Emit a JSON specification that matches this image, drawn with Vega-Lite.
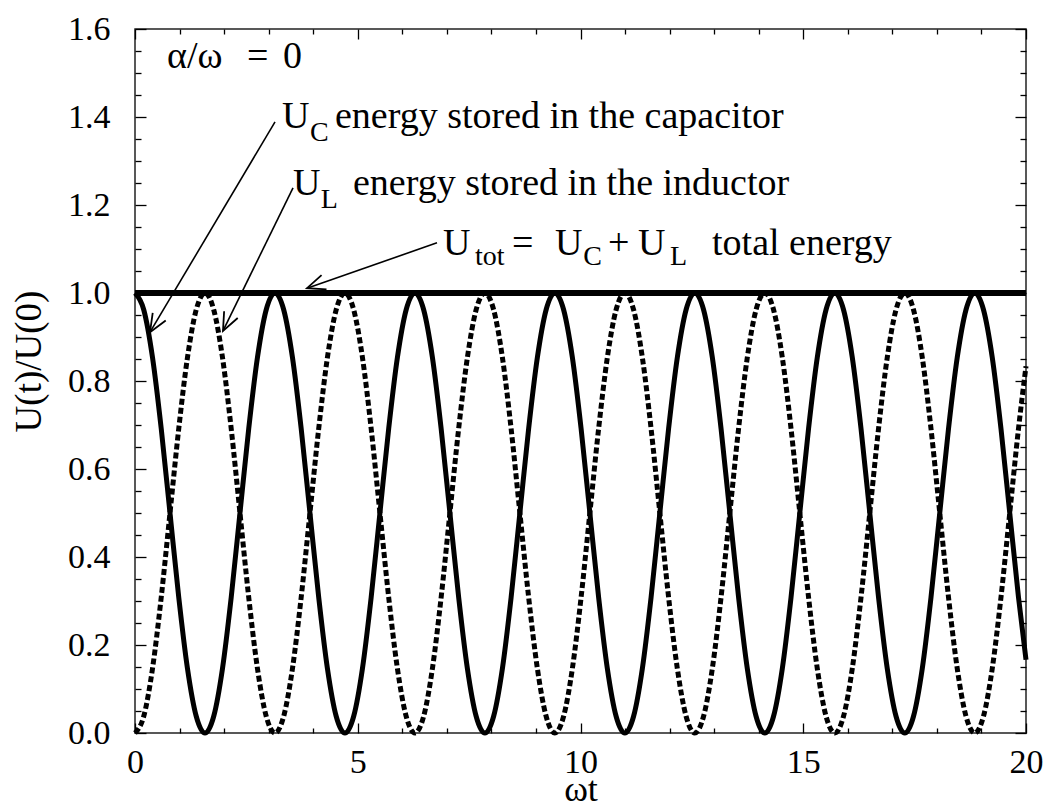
{
  "$schema": "https://vega.github.io/schema/vega-lite/v6.json",
  "width": 891,
  "height": 704,
  "autosize": {"type": "none"},
  "padding": {"left": 135, "top": 29, "right": 21, "bottom": 77},
  "background": "white",
  "config": {
    "font": "Liberation Serif, Times New Roman, serif",
    "view": {"stroke": "#222222", "strokeWidth": 1.5},
    "axis": {"domain": false, "grid": false, "tickColor": "black", "tickWidth": 1.3, "labelColor": "black", "titleColor": "black", "labelFont": "Liberation Serif, Times New Roman, serif", "titleFont": "Liberation Serif, Times New Roman, serif", "titleFontWeight": "normal"}
  },
  "resolve": {"axis": {"x": "independent", "y": "independent"}},
  "datasets": {
    "curve": [
      {"t": 0, "uc": 1, "ul": 0, "tot": 1},
      {"t": 0.19635, "uc": 0.96194, "ul": 0.03806, "tot": 1},
      {"t": 0.3927, "uc": 0.85355, "ul": 0.14645, "tot": 1},
      {"t": 0.58905, "uc": 0.69134, "ul": 0.30866, "tot": 1},
      {"t": 0.7854, "uc": 0.5, "ul": 0.5, "tot": 1},
      {"t": 0.98175, "uc": 0.30866, "ul": 0.69134, "tot": 1},
      {"t": 1.1781, "uc": 0.14645, "ul": 0.85355, "tot": 1},
      {"t": 1.37445, "uc": 0.03806, "ul": 0.96194, "tot": 1},
      {"t": 1.5708, "uc": 0, "ul": 1, "tot": 1},
      {"t": 1.76715, "uc": 0.03806, "ul": 0.96194, "tot": 1},
      {"t": 1.9635, "uc": 0.14645, "ul": 0.85355, "tot": 1},
      {"t": 2.15984, "uc": 0.30866, "ul": 0.69134, "tot": 1},
      {"t": 2.35619, "uc": 0.5, "ul": 0.5, "tot": 1},
      {"t": 2.55254, "uc": 0.69134, "ul": 0.30866, "tot": 1},
      {"t": 2.74889, "uc": 0.85355, "ul": 0.14645, "tot": 1},
      {"t": 2.94524, "uc": 0.96194, "ul": 0.03806, "tot": 1},
      {"t": 3.14159, "uc": 1, "ul": 0, "tot": 1},
      {"t": 3.33794, "uc": 0.96194, "ul": 0.03806, "tot": 1},
      {"t": 3.53429, "uc": 0.85355, "ul": 0.14645, "tot": 1},
      {"t": 3.73064, "uc": 0.69134, "ul": 0.30866, "tot": 1},
      {"t": 3.92699, "uc": 0.5, "ul": 0.5, "tot": 1},
      {"t": 4.12334, "uc": 0.30866, "ul": 0.69134, "tot": 1},
      {"t": 4.31969, "uc": 0.14645, "ul": 0.85355, "tot": 1},
      {"t": 4.51604, "uc": 0.03806, "ul": 0.96194, "tot": 1},
      {"t": 4.71239, "uc": 0, "ul": 1, "tot": 1},
      {"t": 4.90874, "uc": 0.03806, "ul": 0.96194, "tot": 1},
      {"t": 5.10509, "uc": 0.14645, "ul": 0.85355, "tot": 1},
      {"t": 5.30144, "uc": 0.30866, "ul": 0.69134, "tot": 1},
      {"t": 5.49779, "uc": 0.5, "ul": 0.5, "tot": 1},
      {"t": 5.69414, "uc": 0.69134, "ul": 0.30866, "tot": 1},
      {"t": 5.89049, "uc": 0.85355, "ul": 0.14645, "tot": 1},
      {"t": 6.08684, "uc": 0.96194, "ul": 0.03806, "tot": 1},
      {"t": 6.28319, "uc": 1, "ul": 0, "tot": 1},
      {"t": 6.47953, "uc": 0.96194, "ul": 0.03806, "tot": 1},
      {"t": 6.67588, "uc": 0.85355, "ul": 0.14645, "tot": 1},
      {"t": 6.87223, "uc": 0.69134, "ul": 0.30866, "tot": 1},
      {"t": 7.06858, "uc": 0.5, "ul": 0.5, "tot": 1},
      {"t": 7.26493, "uc": 0.30866, "ul": 0.69134, "tot": 1},
      {"t": 7.46128, "uc": 0.14645, "ul": 0.85355, "tot": 1},
      {"t": 7.65763, "uc": 0.03806, "ul": 0.96194, "tot": 1},
      {"t": 7.85398, "uc": 0, "ul": 1, "tot": 1},
      {"t": 8.05033, "uc": 0.03806, "ul": 0.96194, "tot": 1},
      {"t": 8.24668, "uc": 0.14645, "ul": 0.85355, "tot": 1},
      {"t": 8.44303, "uc": 0.30866, "ul": 0.69134, "tot": 1},
      {"t": 8.63938, "uc": 0.5, "ul": 0.5, "tot": 1},
      {"t": 8.83573, "uc": 0.69134, "ul": 0.30866, "tot": 1},
      {"t": 9.03208, "uc": 0.85355, "ul": 0.14645, "tot": 1},
      {"t": 9.22843, "uc": 0.96194, "ul": 0.03806, "tot": 1},
      {"t": 9.42478, "uc": 1, "ul": 0, "tot": 1},
      {"t": 9.62113, "uc": 0.96194, "ul": 0.03806, "tot": 1},
      {"t": 9.81748, "uc": 0.85355, "ul": 0.14645, "tot": 1},
      {"t": 10.01383, "uc": 0.69134, "ul": 0.30866, "tot": 1},
      {"t": 10.21018, "uc": 0.5, "ul": 0.5, "tot": 1},
      {"t": 10.40653, "uc": 0.30866, "ul": 0.69134, "tot": 1},
      {"t": 10.60288, "uc": 0.14645, "ul": 0.85355, "tot": 1},
      {"t": 10.79922, "uc": 0.03806, "ul": 0.96194, "tot": 1},
      {"t": 10.99557, "uc": 0, "ul": 1, "tot": 1},
      {"t": 11.19192, "uc": 0.03806, "ul": 0.96194, "tot": 1},
      {"t": 11.38827, "uc": 0.14645, "ul": 0.85355, "tot": 1},
      {"t": 11.58462, "uc": 0.30866, "ul": 0.69134, "tot": 1},
      {"t": 11.78097, "uc": 0.5, "ul": 0.5, "tot": 1},
      {"t": 11.97732, "uc": 0.69134, "ul": 0.30866, "tot": 1},
      {"t": 12.17367, "uc": 0.85355, "ul": 0.14645, "tot": 1},
      {"t": 12.37002, "uc": 0.96194, "ul": 0.03806, "tot": 1},
      {"t": 12.56637, "uc": 1, "ul": 0, "tot": 1},
      {"t": 12.76272, "uc": 0.96194, "ul": 0.03806, "tot": 1},
      {"t": 12.95907, "uc": 0.85355, "ul": 0.14645, "tot": 1},
      {"t": 13.15542, "uc": 0.69134, "ul": 0.30866, "tot": 1},
      {"t": 13.35177, "uc": 0.5, "ul": 0.5, "tot": 1},
      {"t": 13.54812, "uc": 0.30866, "ul": 0.69134, "tot": 1},
      {"t": 13.74447, "uc": 0.14645, "ul": 0.85355, "tot": 1},
      {"t": 13.94082, "uc": 0.03806, "ul": 0.96194, "tot": 1},
      {"t": 14.13717, "uc": 0, "ul": 1, "tot": 1},
      {"t": 14.33352, "uc": 0.03806, "ul": 0.96194, "tot": 1},
      {"t": 14.52987, "uc": 0.14645, "ul": 0.85355, "tot": 1},
      {"t": 14.72622, "uc": 0.30866, "ul": 0.69134, "tot": 1},
      {"t": 14.92257, "uc": 0.5, "ul": 0.5, "tot": 1},
      {"t": 15.11891, "uc": 0.69134, "ul": 0.30866, "tot": 1},
      {"t": 15.31526, "uc": 0.85355, "ul": 0.14645, "tot": 1},
      {"t": 15.51161, "uc": 0.96194, "ul": 0.03806, "tot": 1},
      {"t": 15.70796, "uc": 1, "ul": 0, "tot": 1},
      {"t": 15.90431, "uc": 0.96194, "ul": 0.03806, "tot": 1},
      {"t": 16.10066, "uc": 0.85355, "ul": 0.14645, "tot": 1},
      {"t": 16.29701, "uc": 0.69134, "ul": 0.30866, "tot": 1},
      {"t": 16.49336, "uc": 0.5, "ul": 0.5, "tot": 1},
      {"t": 16.68971, "uc": 0.30866, "ul": 0.69134, "tot": 1},
      {"t": 16.88606, "uc": 0.14645, "ul": 0.85355, "tot": 1},
      {"t": 17.08241, "uc": 0.03806, "ul": 0.96194, "tot": 1},
      {"t": 17.27876, "uc": 0, "ul": 1, "tot": 1},
      {"t": 17.47511, "uc": 0.03806, "ul": 0.96194, "tot": 1},
      {"t": 17.67146, "uc": 0.14645, "ul": 0.85355, "tot": 1},
      {"t": 17.86781, "uc": 0.30866, "ul": 0.69134, "tot": 1},
      {"t": 18.06416, "uc": 0.5, "ul": 0.5, "tot": 1},
      {"t": 18.26051, "uc": 0.69134, "ul": 0.30866, "tot": 1},
      {"t": 18.45686, "uc": 0.85355, "ul": 0.14645, "tot": 1},
      {"t": 18.65321, "uc": 0.96194, "ul": 0.03806, "tot": 1},
      {"t": 18.84956, "uc": 1, "ul": 0, "tot": 1},
      {"t": 19.04591, "uc": 0.96194, "ul": 0.03806, "tot": 1},
      {"t": 19.24226, "uc": 0.85355, "ul": 0.14645, "tot": 1},
      {"t": 19.4386, "uc": 0.69134, "ul": 0.30866, "tot": 1},
      {"t": 19.63495, "uc": 0.5, "ul": 0.5, "tot": 1},
      {"t": 19.8313, "uc": 0.30866, "ul": 0.69134, "tot": 1},
      {"t": 20, "uc": 0.16653, "ul": 0.83347, "tot": 1}
    ],
    "big": [
      {"x": 3.3, "y": 1.375, "txt": "U"},
      {"x": 4.489, "y": 1.375, "txt": "energy stored in the capacitor"},
      {"x": 3.547, "y": 1.2227, "txt": "U"},
      {"x": 4.893, "y": 1.2227, "txt": "energy stored in the inductor"},
      {"x": 6.914, "y": 1.0864, "txt": "U"},
      {"x": 8.462, "y": 1.0864, "txt": "="},
      {"x": 9.428, "y": 1.0864, "txt": "U"},
      {"x": 10.617, "y": 1.0864, "txt": "+"},
      {"x": 11.291, "y": 1.0864, "txt": "U"},
      {"x": 12.952, "y": 1.0864, "txt": "total energy"},
      {"x": 0.718, "y": 1.511, "txt": "α/ω"},
      {"x": 2.514, "y": 1.511, "txt": "="},
      {"x": 3.322, "y": 1.511, "txt": "0"}
    ],
    "subs": [
      {"x": 3.93, "y": 1.345, "txt": "C"},
      {"x": 4.17, "y": 1.193, "txt": "L"},
      {"x": 7.632, "y": 1.0636, "txt": "tot"},
      {"x": 10.06, "y": 1.0636, "txt": "C"},
      {"x": 12.009, "y": 1.0636, "txt": "L"}
    ],
    "arrows": [
      {"x0": 3.143, "y0": 1.389, "x1": 0.337, "y1": 0.911},
      {"x0": 3.547, "y0": 1.239, "x1": 1.975, "y1": 0.914},
      {"x0": 6.779, "y0": 1.114, "x1": 3.861, "y1": 1.011}
    ]
  },
  "layer": [
    {
      "data": {"name": "curve"},
      "mark": {"type": "line", "interpolate": "monotone", "color": "black", "strokeWidth": 5},
      "encoding": {
        "x": {"field": "t", "type": "quantitative", "scale": {"domain": [0, 20], "nice": false, "zero": false},
          "axis": {"orient": "bottom", "values": [0, 5, 10, 15, 20], "tickSize": -10, "labelFontSize": 34, "labelPadding": 22, "labelFlush": false, "labelBaseline": "top", "title": "ωt", "titleFontSize": 36, "titleY": 67, "titleBaseline": "alphabetic"}},
        "y": {"field": "uc", "type": "quantitative", "scale": {"domain": [0, 1.6], "nice": false, "zero": false},
          "axis": {"orient": "left", "values": [0, 0.2, 0.4, 0.6, 0.8, 1.0, 1.2, 1.4, 1.6], "format": ".1f", "tickSize": -11, "labelFontSize": 34, "labelPadding": 36, "labelFlush": false, "labelAlign": "right", "labelBaseline": "middle", "title": "U(t)/U(0)", "titleFontSize": 37, "titleX": -106, "titleY": 332, "titleAngle": -90, "titleAlign": "center", "titleBaseline": "middle"}}
      }
    },
    {
      "data": {"name": "curve"},
      "mark": {"type": "line", "interpolate": "monotone", "color": "black", "strokeWidth": 5, "strokeDash": [6, 3]},
      "encoding": {
        "x": {"field": "t", "type": "quantitative", "scale": {"domain": [0, 20], "nice": false, "zero": false},
          "axis": {"orient": "bottom", "values": [1, 2, 3, 4, 6, 7, 8, 9, 11, 12, 13, 14, 16, 17, 18, 19], "tickSize": -5, "labels": false, "title": null}},
        "y": {"field": "ul", "type": "quantitative",
          "axis": {"orient": "left", "values": [0.05, 0.1, 0.15, 0.25, 0.3, 0.35, 0.45, 0.5, 0.55, 0.65, 0.7, 0.75, 0.85, 0.9, 0.95, 1.05, 1.1, 1.15, 1.25, 1.3, 1.35, 1.45, 1.5, 1.55], "tickSize": -6, "labels": false, "title": null}}
      }
    },
    {
      "data": {"name": "curve"},
      "mark": {"type": "line", "color": "black", "strokeWidth": 6},
      "encoding": {
        "x": {"field": "t", "type": "quantitative",
          "axis": {"orient": "top", "values": [0, 5, 10, 15, 20], "tickSize": -10, "labels": false, "title": null}},
        "y": {"field": "tot", "type": "quantitative",
          "axis": {"orient": "right", "values": [0, 0.2, 0.4, 0.6, 0.8, 1.0, 1.2, 1.4, 1.6], "tickSize": -11, "labels": false, "title": null}}
      }
    },
    {
      "data": {"name": "arrows"},
      "mark": {"type": "rule", "color": "black", "strokeWidth": 1.6},
      "encoding": {
        "x": {"field": "x0", "type": "quantitative",
          "axis": {"orient": "top", "values": [1, 2, 3, 4, 6, 7, 8, 9, 11, 12, 13, 14, 16, 17, 18, 19], "tickSize": -5, "labels": false, "title": null}},
        "y": {"field": "y0", "type": "quantitative",
          "axis": {"orient": "right", "values": [0.05, 0.1, 0.15, 0.25, 0.3, 0.35, 0.45, 0.5, 0.55, 0.65, 0.7, 0.75, 0.85, 0.9, 0.95, 1.05, 1.1, 1.15, 1.25, 1.3, 1.35, 1.45, 1.5, 1.55], "tickSize": -6, "labels": false, "title": null}},
        "x2": {"field": "x1"},
        "y2": {"field": "y1"}
      }
    },
    {
      "data": {"values": [{"x": 0.337, "y": 0.911}]},
      "mark": {"type": "point", "shape": "M -0.42 -1 L 0 0 L 0.42 -1", "filled": false, "stroke": "black", "strokeWidth": 1.8, "size": 1300, "angle": 30.7, "opacity": 1},
      "encoding": {
        "x": {"field": "x", "type": "quantitative", "axis": null},
        "y": {"field": "y", "type": "quantitative", "axis": null}
      }
    },
    {
      "data": {"values": [{"x": 1.975, "y": 0.914}]},
      "mark": {"type": "point", "shape": "M -0.42 -1 L 0 0 L 0.42 -1", "filled": false, "stroke": "black", "strokeWidth": 1.8, "size": 1300, "angle": 26.1, "opacity": 1},
      "encoding": {
        "x": {"field": "x", "type": "quantitative", "axis": null},
        "y": {"field": "y", "type": "quantitative", "axis": null}
      }
    },
    {
      "data": {"values": [{"x": 3.861, "y": 1.011}]},
      "mark": {"type": "point", "shape": "M -0.42 -1 L 0 0 L 0.42 -1", "filled": false, "stroke": "black", "strokeWidth": 1.8, "size": 1300, "angle": 70.9, "opacity": 1},
      "encoding": {
        "x": {"field": "x", "type": "quantitative", "axis": null},
        "y": {"field": "y", "type": "quantitative", "axis": null}
      }
    },
    {
      "data": {"name": "big"},
      "mark": {"type": "text", "font": "Liberation Serif, Times New Roman, serif", "fontSize": 38, "align": "left", "baseline": "alphabetic", "color": "black"},
      "encoding": {
        "x": {"field": "x", "type": "quantitative", "axis": null},
        "y": {"field": "y", "type": "quantitative", "axis": null},
        "text": {"field": "txt"}
      }
    },
    {
      "data": {"name": "subs"},
      "mark": {"type": "text", "font": "Liberation Serif, Times New Roman, serif", "fontSize": 28, "align": "left", "baseline": "alphabetic", "color": "black"},
      "encoding": {
        "x": {"field": "x", "type": "quantitative", "axis": null},
        "y": {"field": "y", "type": "quantitative", "axis": null},
        "text": {"field": "txt"}
      }
    }
  ]
}
